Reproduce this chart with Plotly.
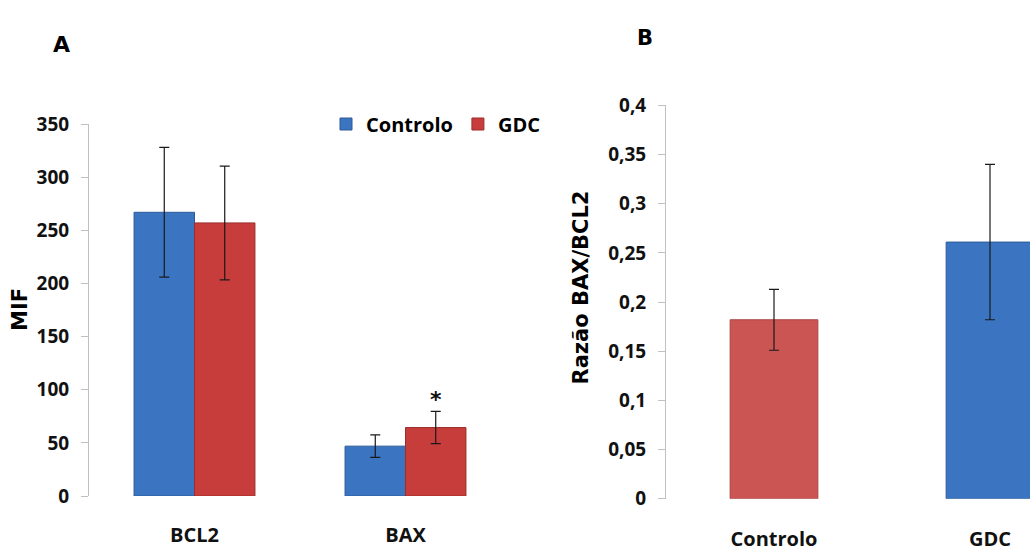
import plotly.graph_objects as go

# ---- data ----
genes = ["BCL2", "BAX"]
controlo_mif = [267, 47]
controlo_err = [61, 10.6]
gdc_mif = [257, 64.5]
gdc_err = [53.5, 15.2]

ratio_groups = ["Controlo", "GDC"]
ratio_vals = [0.182, 0.261]
ratio_err = [0.031, 0.079]

left_ticks = [0, 50, 100, 150, 200, 250, 300, 350]
right_ticks = [0, 0.05, 0.1, 0.15, 0.2, 0.25, 0.3, 0.35, 0.4]
right_ticktext = ["0", "0,05", "0,1", "0,15", "0,2", "0,25", "0,3", "0,35", "0,4"]

W, H = 1030, 556
BLUE = "#3b74c1"
RED = "#c63d3b"
RED2 = "#cb5553"
TICKFONT = dict(family="Open Sans", size=19, color="#111111", weight="bold")
CATFONT = dict(family="Open Sans", size=20, color="#111111", weight="bold")
LBLFONT = dict(family="DejaVu Sans", size=21, color="#000000", weight="bold")

fig = go.Figure()

err_style = dict(type="data", thickness=1.2, width=5, color="#1a1a1a")

fig.add_trace(go.Bar(
    x=genes, y=controlo_mif, name="Controlo",
    marker=dict(color=BLUE, line=dict(color="#2c5a98", width=1)),
    error_y=dict(array=controlo_err, **err_style),
    xaxis="x", yaxis="y",
))
fig.add_trace(go.Bar(
    x=genes, y=gdc_mif, name="GDC",
    marker=dict(color=RED, line=dict(color="#9a2e2c", width=1)),
    error_y=dict(array=gdc_err, **err_style),
    xaxis="x", yaxis="y",
))
fig.add_trace(go.Bar(
    x=ratio_groups, y=ratio_vals, width=0.406, showlegend=False,
    marker=dict(color=[RED2, BLUE], line=dict(color=["#a84442", "#2c5a98"], width=1)),
    error_y=dict(array=ratio_err, **err_style),
    xaxis="x2", yaxis="y2",
))

def py(p):
    return (H - p) / H

fig.update_layout(
    width=W, height=H,
    margin=dict(l=0, r=0, t=0, b=0),
    paper_bgcolor="white", plot_bgcolor="white",
    barmode="group", bargap=0.427, bargroupgap=0,
    showlegend=True,
    legend=dict(
        orientation="h", x=326 / W, y=py(96), xanchor="left", yanchor="top",
        font=dict(family="Open Sans", size=20, color="#000000", weight="bold"),
        bgcolor="rgba(0,0,0,0)", itemwidth=30, traceorder="normal",
    ),
    xaxis=dict(
        domain=[89 / W, 511 / W], anchor="y",
        showline=False, ticks="", showgrid=False, zeroline=False,
        tickfont=CATFONT, ticklabelstandoff=25,
    ),
    yaxis=dict(
        domain=[py(506.8), py(116.5)], anchor="x", range=[0, 350],
        tickvals=left_ticks, showgrid=False, zeroline=False,
        showline=True, linecolor="#c0c0c0", linewidth=1,
        ticks="outside", ticklen=7, tickcolor="#c0c0c0",
        tickfont=TICKFONT, ticklabelstandoff=8,
    ),
    xaxis2=dict(
        domain=[666 / W, 1.0], anchor="y2", range=[-0.5, 1.5 - 68 / 216],
        showline=False, ticks="", showgrid=False, zeroline=False,
        tickfont=CATFONT, ticklabelstandoff=26,
    ),
    yaxis2=dict(
        domain=[py(509.6), py(96.9)], anchor="x2", range=[0, 0.4],
        tickvals=right_ticks, ticktext=right_ticktext,
        showgrid=False, zeroline=False,
        showline=True, linecolor="#c0c0c0", linewidth=1,
        ticks="outside", ticklen=7, tickcolor="#c0c0c0",
        tickfont=TICKFONT, ticklabelstandoff=8,
    ),
)

# axis titles and panel letters
fig.add_annotation(text="MIF", x=20.5 / W, y=py(311), xref="paper", yref="paper",
                   textangle=-90, showarrow=False, font=LBLFONT,
                   xanchor="center", yanchor="middle")
fig.add_annotation(text="Razão BAX/BCL2", x=581 / W, y=py(288), xref="paper", yref="paper",
                   textangle=-90, showarrow=False, font=LBLFONT,
                   xanchor="center", yanchor="middle")
fig.add_annotation(text="A", x=61.5 / W, y=py(33.4), xref="paper", yref="paper",
                   showarrow=False, font=dict(family="DejaVu Sans", size=22, color="#000", weight="bold"),
                   xanchor="center", yanchor="middle")
fig.add_annotation(text="B", x=644.5 / W, y=py(26), xref="paper", yref="paper",
                   showarrow=False, font=dict(family="DejaVu Sans", size=21, color="#000", weight="bold"),
                   xanchor="center", yanchor="middle")
# significance marker above GDC BAX bar
fig.add_annotation(text="*", x="BAX", y=gdc_mif[1] + gdc_err[1], xref="x", yref="y",
                   xshift=30, yshift=12, showarrow=False,
                   font=dict(family="DejaVu Sans", size=22, color="#111", weight="bold"),
                   xanchor="center", yanchor="middle")

fig.write_html("out.html")
